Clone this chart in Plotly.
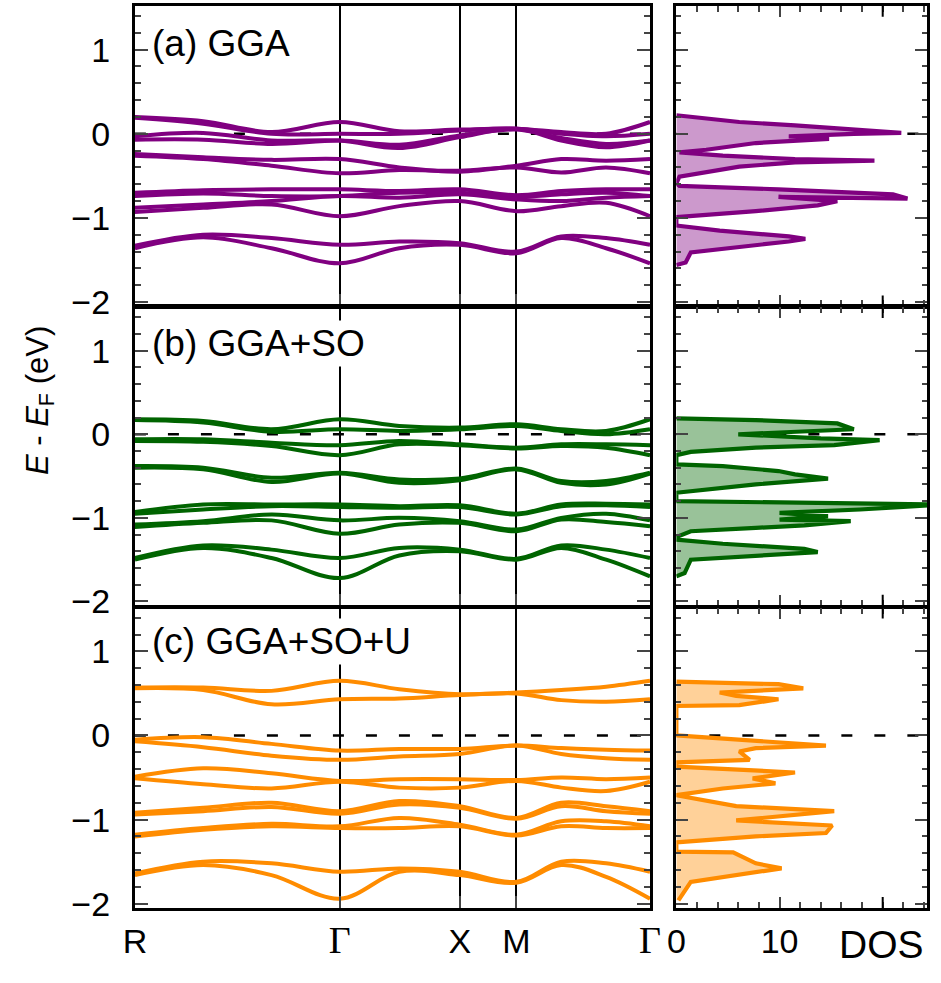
import plotly.graph_objects as go

# ---------------- data ----------------
k_nodes = [0, 70, 140, 210, 271, 333, 391, 437, 483, 528]
k_ticks = [0, 210, 333, 391, 528]
k_labels = ["R", "Γ", "X", "M", "Γ"]
dos_ticks = [0, 10]
dos_tick_labels = ["0", "10"]
dos_long_tick = 20

bands_gga = [
    [0.20, 0.15, 0.02, 0.14, 0.03, 0.05, 0.06, 0.02, 0.00, 0.14],
    [0.19, 0.12, 0.00, 0.00, 0.00, 0.04, 0.06, 0.00, -0.03, 0.00],
    [-0.03, 0.01, -0.08, -0.08, -0.17, -0.04, 0.06, -0.08, -0.16, -0.08],
    [-0.07, -0.07, -0.12, -0.08, -0.13, -0.02, 0.05, -0.05, -0.12, -0.08],
    [-0.24, -0.28, -0.31, -0.30, -0.40, -0.45, -0.38, -0.30, -0.32, -0.30],
    [-0.26, -0.30, -0.38, -0.47, -0.43, -0.44, -0.40, -0.46, -0.40, -0.47],
    [-0.70, -0.67, -0.66, -0.66, -0.68, -0.66, -0.73, -0.68, -0.66, -0.66],
    [-0.74, -0.71, -0.74, -0.74, -0.70, -0.70, -0.75, -0.72, -0.70, -0.74],
    [-0.88, -0.84, -0.80, -0.74, -0.76, -0.72, -0.78, -0.80, -0.76, -0.74],
    [-0.93, -0.88, -0.84, -0.98, -0.86, -0.80, -0.92, -0.86, -0.82, -0.98],
    [-1.33, -1.20, -1.24, -1.32, -1.28, -1.30, -1.40, -1.22, -1.24, -1.32],
    [-1.36, -1.23, -1.36, -1.54, -1.36, -1.32, -1.42, -1.24, -1.36, -1.54],
]

bands_gga_so = [
    [0.18, 0.16, 0.06, 0.18, 0.10, 0.08, 0.12, 0.06, 0.04, 0.18],
    [0.17, 0.14, 0.03, 0.06, 0.04, 0.06, 0.10, 0.04, 0.00, 0.06],
    [-0.06, -0.06, -0.10, -0.13, -0.08, -0.12, -0.16, -0.12, -0.12, -0.13],
    [-0.08, -0.09, -0.14, -0.25, -0.12, -0.13, -0.17, -0.14, -0.16, -0.25],
    [-0.38, -0.40, -0.52, -0.46, -0.54, -0.53, -0.41, -0.56, -0.56, -0.46],
    [-0.40, -0.42, -0.57, -0.47, -0.58, -0.55, -0.42, -0.58, -0.60, -0.47],
    [-0.93, -0.84, -0.84, -0.84, -0.86, -0.85, -0.95, -0.84, -0.83, -0.84],
    [-0.95, -0.90, -0.86, -0.87, -0.88, -0.87, -0.96, -0.86, -0.85, -0.87],
    [-1.08, -1.04, -0.96, -1.03, -1.00, -1.04, -1.14, -1.00, -0.95, -1.03],
    [-1.11, -1.06, -1.03, -1.19, -1.08, -1.06, -1.16, -1.02, -1.05, -1.10],
    [-1.48, -1.33, -1.38, -1.48, -1.36, -1.38, -1.49, -1.33, -1.38, -1.48],
    [-1.50, -1.36, -1.48, -1.72, -1.45, -1.40, -1.50, -1.36, -1.50, -1.70],
]

bands_gga_so_u = [
    [0.57, 0.57, 0.53, 0.65, 0.55, 0.49, 0.51, 0.54, 0.58, 0.65],
    [0.56, 0.54, 0.37, 0.43, 0.44, 0.48, 0.50, 0.42, 0.40, 0.43],
    [-0.05, -0.02, -0.10, -0.18, -0.16, -0.16, -0.12, -0.15, -0.17, -0.18],
    [-0.07, -0.14, -0.24, -0.29, -0.25, -0.22, -0.12, -0.22, -0.27, -0.29],
    [-0.49, -0.39, -0.45, -0.54, -0.52, -0.52, -0.53, -0.50, -0.52, -0.50],
    [-0.51, -0.58, -0.63, -0.55, -0.62, -0.62, -0.54, -0.62, -0.66, -0.55],
    [-0.92, -0.86, -0.80, -0.90, -0.78, -0.84, -0.98, -0.80, -0.84, -0.90],
    [-0.94, -0.90, -0.85, -0.93, -0.82, -0.86, -0.99, -0.84, -0.90, -0.93],
    [-1.18, -1.10, -1.05, -1.08, -0.98, -1.06, -1.18, -1.02, -1.02, -1.08],
    [-1.20, -1.12, -1.08, -1.10, -1.10, -1.08, -1.19, -1.08, -1.10, -1.10],
    [-1.64, -1.50, -1.52, -1.62, -1.58, -1.62, -1.74, -1.50, -1.52, -1.62],
    [-1.66, -1.54, -1.66, -1.94, -1.62, -1.66, -1.75, -1.54, -1.68, -1.94],
]

dos_gga_E = [0.22, 0.14, 0.10, 0.05, 0.01, 0.00, -0.03, -0.06, -0.11, -0.19, -0.22,
             -0.26, -0.30, -0.32, -0.34, -0.39, -0.45, -0.51, -0.59, -0.62, -0.66,
             -0.70, -0.72, -0.77, -0.75, -0.80, -0.85, -0.92, -0.97, -0.99, -1.09,
             -1.15, -1.22, -1.25, -1.28, -1.35, -1.41, -1.53, -1.56]
dos_gga_D = [0.0, 6.1, 11.5, 17.2, 21.8, 17.2, 10.9, 14.8, 7.7, 2.9, 0.3,
             4.5, 11.5, 19.2, 11.5, 6.1, 2.9, 0.3, 0.0, 0.3, 9.9,
             17.2, 21.0, 22.4, 9.9, 15.6, 13.7, 7.7, 1.4, 0.0, 0.0,
             4.2, 10.9, 12.5, 10.9, 6.1, 1.4, 0.9, 0.0]

dos_so_E = [0.19, 0.17, 0.13, 0.06, 0.00, -0.05, -0.07, -0.13, -0.16, -0.21, -0.25,
            -0.36, -0.38, -0.44, -0.48, -0.53, -0.60, -0.66, -0.70,
            -0.80, -0.82, -0.84, -0.90, -0.94, -0.98, -1.02, -1.04, -1.09, -1.12, -1.16, -1.23,
            -1.26, -1.31, -1.36, -1.37, -1.41, -1.45, -1.50, -1.66, -1.70]
dos_so_D = [0.0, 7.7, 15.6, 17.2, 6.0, 14.0, 19.7, 15.3, 7.7, 1.4, 0.0,
            0.0, 4.5, 9.9, 11.5, 14.7, 7.7, 2.9, 0.0,
            0.0, 10.9, 26.0, 17.8, 10.0, 14.7, 10.0, 16.9, 12.4, 7.7, 1.4, 0.0,
            0.0, 4.5, 10.9, 12.4, 13.7, 7.7, 1.4, 0.8, 0.0]

dos_sou_E = [0.64, 0.61, 0.56, 0.51, 0.47, 0.43, 0.36, 0.35,
             0.00, -0.07, -0.12, -0.15, -0.19, -0.29, -0.32,
             -0.37, -0.44, -0.51, -0.57, -0.63, -0.71,
             -0.84, -0.90, -1.01, -1.07, -1.16, -1.20, -1.27,
             -1.38, -1.39, -1.52, -1.58, -1.64, -1.74, -1.96]
dos_sou_D = [0.0, 9.9, 12.3, 4.2, 5.8, 9.9, 6.1, 0.0,
             0.0, 8.7, 14.5, 7.7, 6.1, 7.1, 0.0,
             0.0, 11.5, 7.4, 9.6, 4.5, 0.0,
             5.8, 15.3, 5.8, 15.1, 14.5, 7.7, 0.0,
             0.0, 5.5, 7.7, 10.2, 7.1, 1.4, 0.2]

panel_titles = ["(a) GGA", "(b) GGA+SO", "(c) GGA+SO+U"]
line_colors = ["#800080", "#006400", "#ff8c00"]
fill_colors = ["#cc99cc", "#99c299", "#ffd199"]
all_bands = [bands_gga, bands_gga_so, bands_gga_so_u]
all_dos = [(dos_gga_E, dos_gga_D), (dos_so_E, dos_so_D), (dos_sou_E, dos_sou_D)]

# ---------------- layout geometry ----------------
W, H = 941, 983
E_RANGE = [-2.05, 1.52]
DOS_MAX = 24.3
K_MAX = 528
band_xdom = [126 / W, 654 / W]
dos_xdom = [681 / W, 938 / W]
panel_px = [(6, 311), (312, 615), (617, 922)]
ydoms = [[1 - b / H, 1 - t / H] for t, b in panel_px]

FONT = "Liberation Sans, Arial, Helvetica, sans-serif"
SERIF = "Liberation Serif, Times New Roman, serif"
TICK_SIZE = 34

fig = go.Figure()

for i in range(3):
    bx = "x" if i == 0 else f"x{i + 1}"
    by = "y" if i == 0 else f"y{i + 1}"
    dx = f"x{i + 4}"
    dy = f"y{i + 4}"
    # Fermi level
    fig.add_trace(go.Scatter(x=[0, K_MAX], y=[0, 0], xaxis=bx, yaxis=by, mode="lines",
                             line=dict(color="black", width=2.4, dash="11px,22px"),
                             hoverinfo="skip", showlegend=False))
    fig.add_trace(go.Scatter(x=[0, DOS_MAX], y=[0, 0], xaxis=dx, yaxis=dy, mode="lines",
                             line=dict(color="black", width=2.4, dash="11px,22px"),
                             hoverinfo="skip", showlegend=False))
    for band in all_bands[i]:
        fig.add_trace(go.Scatter(x=k_nodes, y=band, xaxis=bx, yaxis=by, mode="lines",
                                 line=dict(color=line_colors[i], width=4, shape="spline",
                                           smoothing=1.0),
                                 showlegend=False))
    dE, dD = all_dos[i]
    fig.add_trace(go.Scatter(x=dD, y=dE, xaxis=dx, yaxis=dy, mode="lines",
                             fill="tozerox", fillcolor=fill_colors[i],
                             line=dict(color=line_colors[i], width=4.2),
                             showlegend=False))

layout = dict(width=W, height=H, autosize=False, margin=dict(l=0, r=0, t=0, b=0),
              paper_bgcolor="white", plot_bgcolor="white", showlegend=False,
              font=dict(family=FONT, size=TICK_SIZE, color="black"))

gamma = f'<span style="font-family:{SERIF};font-size:38px">Γ</span>'
shapes = []
for i in range(3):
    bxn = "xaxis" if i == 0 else f"xaxis{i + 1}"
    byn = "yaxis" if i == 0 else f"yaxis{i + 1}"
    bx = "x" if i == 0 else f"x{i + 1}"
    by = "y" if i == 0 else f"y{i + 1}"
    last = (i == 2)
    layout[bxn] = dict(domain=band_xdom, anchor=by, range=[0, K_MAX],
                       tickmode="array", tickvals=k_ticks,
                       ticktext=[gamma if t == "Γ" else t for t in k_labels],
                       showticklabels=last, ticks="inside", ticklen=12, tickwidth=2,
                       showgrid=True, gridcolor="black", gridwidth=1.5, zeroline=False,
                       showline=True, linewidth=3, linecolor="black", mirror=True,
                       tickfont=dict(size=TICK_SIZE), ticklabelstandoff=1)
    layout[byn] = dict(domain=ydoms[i], anchor=bx, range=E_RANGE,
                       tickmode="array", tickvals=[-2, -1, 0, 1],
                       ticks="inside", ticklen=13, tickwidth=2, mirror="ticks",
                       minor=dict(dtick=0.2, tick0=0, ticks="inside", ticklen=6, tickwidth=1.5),
                       showgrid=False, zeroline=False, showline=True, linewidth=3,
                       linecolor="black", tickfont=dict(size=TICK_SIZE), ticklabelstandoff=15)
    dxn = f"xaxis{i + 4}"
    dyn = f"yaxis{i + 4}"
    layout[dxn] = dict(domain=dos_xdom, anchor=f"y{i + 4}", range=[0, DOS_MAX],
                       tickmode="array", tickvals=dos_ticks, ticktext=dos_tick_labels,
                       showticklabels=last,
                       ticks="inside", ticklen=11, tickwidth=2, mirror="ticks",
                       minor=dict(dtick=2, tick0=0, ticks="inside", ticklen=6, tickwidth=1.5),
                       showgrid=False, zeroline=False, showline=True, linewidth=3,
                       linecolor="black", tickfont=dict(size=TICK_SIZE), ticklabelstandoff=1)
    layout[dyn] = dict(domain=ydoms[i], anchor=f"x{i + 4}", range=E_RANGE,
                       tickmode="array", tickvals=[-2, -1, 0, 1], showticklabels=False,
                       ticks="inside", ticklen=12, tickwidth=2, mirror="ticks",
                       minor=dict(dtick=0.2, tick0=0, ticks="inside", ticklen=5, tickwidth=1.5),
                       showgrid=False, zeroline=False, showline=True, linewidth=3,
                       linecolor="black")
    # long tick marks at DOS = 20 (bottom and top)
    ph = panel_px[i][1] - panel_px[i][0]
    for y0, y1 in [(0, 11 / ph), (1 - 11 / ph, 1)]:
        shapes.append(dict(type="line", xref=f"x{i + 4}", yref=f"y{i + 4} domain",
                           x0=dos_long_tick, x1=dos_long_tick, y0=y0, y1=y1,
                           line=dict(color="black", width=2)))
layout["shapes"] = shapes

annotations = []
label_centers = [44, 349, 651]
for i in range(3):
    annotations.append(dict(text=panel_titles[i], xref="paper", yref="paper",
                            x=140 / W, y=1 - label_centers[i] / H, xanchor="left",
                            yanchor="middle", showarrow=False, bgcolor="white",
                            borderpad=2, font=dict(size=37, family=FONT)))
annotations.append(dict(text="<i>E</i> - <i>E</i><sub>F</sub> (eV)", xref="paper", yref="paper",
                        x=28 / W, y=1 - 407 / H, textangle=-90, showarrow=False,
                        xanchor="center", yanchor="middle", font=dict(size=31, family=FONT)))
annotations.append(dict(text="DOS", xref="paper", yref="paper", x=891 / W, y=1 - 959 / H,
                        xanchor="center", yanchor="middle", showarrow=False,
                        font=dict(size=39, family=FONT)))
layout["annotations"] = annotations

fig.update_layout(**layout)
fig.write_html("out.html")
